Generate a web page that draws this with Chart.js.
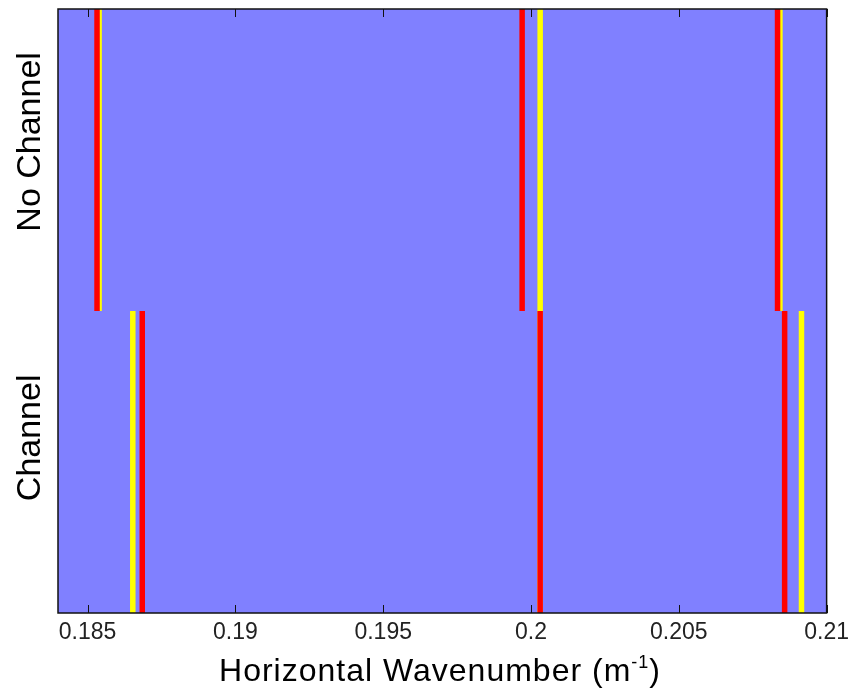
<!DOCTYPE html>
<html>
<head>
<meta charset="utf-8">
<title>Horizontal Wavenumber</title>
<script src="https://cdn.jsdelivr.net/npm/chart.js@4/dist/chart.umd.min.js"></script>
<style>
  html, body { margin: 0; padding: 0; background: #fff; }
  #wrap { width: 855px; height: 698px; }
</style>
</head>
<body>
<div id="wrap"><canvas id="chart"></canvas></div>
<script>
// axe horizontal
const xTicks = [0.185, 0.19, 0.195, 0.2, 0.205, 0.21];
const xTickLabels = ['0.185', '0.19', '0.195', '0.2', '0.205', '0.21'];

// deux bandes : Channel en bas (0-1), No Channel en haut (1-2)
const rowLabels = ['Channel', 'No Channel'];
const rowLabelPos = [0.58, 1.56];

// nombres d'onde (m^-1)
const noChannelRed = [0.18532, 0.19970, 0.20834];
const noChannelYellow = [0.18539, 0.20031, 0.20842];
const channelRed = [0.18685, 0.20031, 0.20858];
const channelYellow = [0.18653, 0.20031, 0.20915];

const BG = '#8080ff';
const RED = '#ff0000';
const YELLOW = '#ffff00';
const FONT = 'Liberation Sans, Arial, sans-serif';

function vlines(values, y0, y1, color, order) {
  return values.map(v => ({
    data: [{ x: v, y: y0 }, { x: v, y: y1 }],
    borderColor: color,
    borderWidth: 5.5,
    borderCapStyle: 'butt',
    pointRadius: 0,
    order: order
  }));
}

const datasets = [
  ...vlines(noChannelRed, 1, 2, RED, 0),
  ...vlines(channelRed, 0, 1, RED, 0),
  ...vlines(noChannelYellow, 1, 2, YELLOW, 1),
  ...vlines(channelYellow, 0, 1, YELLOW, 1)
];

// fond bleu, cadre, graduations intérieures, textes
const decor = {
  id: 'decor',
  beforeDatasetsDraw(chart) {
    const { ctx, chartArea: a } = chart;
    ctx.save();
    ctx.fillStyle = BG;
    ctx.fillRect(a.left, a.top, a.right - a.left, a.bottom - a.top);
    ctx.restore();
  },
  afterDatasetsDraw(chart) {
    const { ctx, chartArea: a, scales } = chart;
    ctx.save();
    ctx.strokeStyle = '#111';
    ctx.lineWidth = 1;
    xTicks.forEach(v => {
      const px = Math.round(scales.x.getPixelForValue(v)) + 0.5;
      ctx.beginPath();
      ctx.moveTo(px, a.bottom); ctx.lineTo(px, a.bottom - 8);
      ctx.moveTo(px, a.top); ctx.lineTo(px, a.top + 8);
      ctx.stroke();
    });
    ctx.lineWidth = 1.5;
    ctx.strokeRect(a.left, a.top, a.right - a.left, a.bottom - a.top);

    // libellés des bandes
    ctx.fillStyle = '#000';
    ctx.font = '34px ' + FONT;
    ctx.textAlign = 'center';
    ctx.textBaseline = 'alphabetic';
    rowLabels.forEach((lab, i) => {
      const py = scales.y.getPixelForValue(rowLabelPos[i]);
      ctx.save();
      ctx.translate(40, py);
      ctx.rotate(-Math.PI / 2);
      ctx.fillText(lab, 0, 0);
      ctx.restore();
    });

    // titre de l'axe x avec exposant
    const main = 'Horizontal Wavenumber (m';
    const sup = '-1';
    const end = ')';
    ctx.letterSpacing = '1px';
    ctx.font = '32px ' + FONT;
    const wMain = ctx.measureText(main).width;
    const wEnd = ctx.measureText(end).width;
    ctx.font = '18px ' + FONT;
    const wSup = ctx.measureText(sup).width;
    const total = wMain + wSup + wEnd;
    let x = 440 - total / 2;
    const base = 681;
    ctx.textAlign = 'left';
    ctx.font = '32px ' + FONT;
    ctx.fillText(main, x, base);
    x += wMain;
    ctx.font = '18px ' + FONT;
    ctx.fillText(sup, x, base - 13);
    x += wSup;
    ctx.font = '32px ' + FONT;
    ctx.fillText(end, x, base);
    ctx.restore();
  }
};

new Chart(document.getElementById('chart'), {
  type: 'line',
  data: { datasets },
  options: {
    responsive: true,
    maintainAspectRatio: false,
    animation: false,
    layout: { padding: { left: 58, top: 9, right: 28, bottom: 0 } },
    plugins: { legend: { display: false }, tooltip: { enabled: false } },
    scales: {
      x: {
        type: 'linear',
        min: 0.184,
        max: 0.21,
        grid: { display: false, drawTicks: false },
        border: { display: false },
        afterBuildTicks: scale => { scale.ticks = xTicks.map(v => ({ value: v })); },
        afterFit: scale => { scale.height = 85; },
        ticks: {
          padding: 6,
          autoSkip: false,
          maxRotation: 0,
          color: '#222',
          font: { family: FONT, size: 23 },
          callback: (v, i) => xTickLabels[i]
        }
      },
      y: {
        type: 'linear',
        min: 0,
        max: 2,
        display: false
      }
    }
  },
  plugins: [decor]
});
</script>
</body>
</html>
